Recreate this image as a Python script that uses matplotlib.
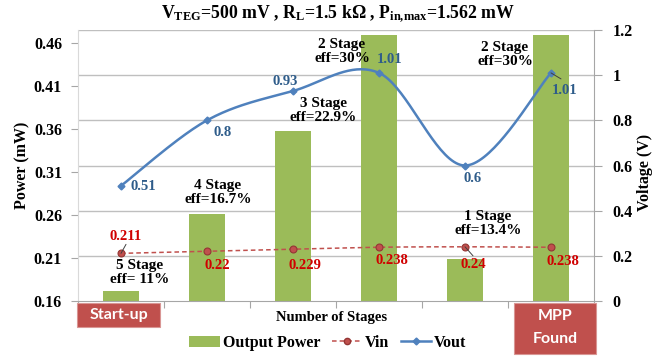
import numpy as np
import matplotlib
matplotlib.use("Agg")
import matplotlib.pyplot as plt
from matplotlib.patches import Rectangle, Patch
from matplotlib.lines import Line2D

# ---- data ----
stages = [5, 4, 3, 2, 1, 2]
efficiency = ["11%", "16.7%", "22.9%", "30%", "13.4%", "30%"]
output_power = [0.172, 0.261, 0.358, 0.469, 0.209, 0.469]   # mW
vin = [0.211, 0.22, 0.229, 0.238, 0.24, 0.238]              # V
vout = [0.51, 0.8, 0.93, 1.01, 0.6, 1.01]                   # V
power_ticks = [0.16, 0.21, 0.26, 0.31, 0.36, 0.41, 0.46]
voltage_ticks = [0, 0.2, 0.4, 0.6, 0.8, 1.0, 1.2]
voltage_ticklabels = ["0", "0.2", "0.4", "0.6", "0.8", "1", "1.2"]

SERIF = "Liberation Serif"
plt.rcParams["font.family"] = SERIF
plt.rcParams["font.weight"] = "bold"
plt.rcParams["mathtext.fontset"] = "custom"
plt.rcParams["mathtext.rm"] = "Liberation Serif:bold"
plt.rcParams["mathtext.it"] = "Liberation Serif:bold"
plt.rcParams["mathtext.bf"] = "Liberation Serif:bold"

BAR = "#9BBB59"
BLUE = "#4F81BD"
BLUE_TXT = "#2E5C8A"
RED = "#C0504D"
RED_TXT = "#D00000"
GRID = "#BFBFBF"
AXIS = "#A6A6A6"

W, H = 665, 356
fig = plt.figure(figsize=(W / 100, H / 100), dpi=100)
x0, x1, y0, y1 = 78, 594, 30, 301
ax = fig.add_axes([x0 / W, 1 - y1 / H, (x1 - x0) / W, (y1 - y0) / H])
ax2 = ax.twinx()

n = len(stages)
x = np.arange(n)
p_lo, p_hi = 0.16, 0.4751
v_lo, v_hi = 0.0, 1.2

ax.set_xlim(-0.5, n - 0.5)
ax.set_ylim(p_lo, p_hi)
ax2.set_ylim(v_lo, v_hi)

# horizontal gridlines follow the voltage axis
for v in voltage_ticks[1:]:
    ax.axhline(p_lo + (v - v_lo) / (v_hi - v_lo) * (p_hi - p_lo),
               color=GRID, lw=1.0, zorder=0.5)

ax.bar(x, output_power, width=0.42, color=BAR, zorder=2)


def smooth(xs, ys, steps=40):
    """Cubic Bezier smoothing through all points (spreadsheet-style)."""
    pts = np.column_stack([xs, ys]).astype(float)
    m = len(pts)
    out = [pts[0]]
    for i in range(m - 1):
        p0 = pts[max(i - 1, 0)]
        p1 = pts[i]
        p2 = pts[i + 1]
        p3 = pts[min(i + 2, m - 1)]
        c1 = p1 + (p2 - p0) / 6.0
        c2 = p2 - (p3 - p1) / 6.0
        t = np.linspace(0, 1, steps)[1:, None]
        seg = ((1 - t) ** 3) * p1 + 3 * ((1 - t) ** 2) * t * c1 \
            + 3 * (1 - t) * t ** 2 * c2 + t ** 3 * p2
        out.extend(seg)
    out = np.array(out)
    return out[:, 0], out[:, 1]


sx, sy = smooth(x, vout)
ax2.plot(sx, sy, color=BLUE, lw=1.8, zorder=3, solid_capstyle="round")
ax2.plot(x, vout, ls="none", marker="D", ms=3.5, color=BLUE, zorder=4)

ix, iy = smooth(x, vin)
ax2.plot(ix, iy, color=RED, lw=1.1, ls=(0, (3, 2)), zorder=3)
ax2.plot(x, vin, ls="none", marker="o", ms=5, mfc=RED, mec="#943634",
         mew=0.8, zorder=4)

# ---- axes styling ----
for a in (ax, ax2):
    for s in a.spines.values():
        s.set_visible(False)
ax.spines["left"].set_visible(True)
ax.spines["left"].set_color("#D9D9D9")
ax.spines["bottom"].set_visible(True)
ax.spines["bottom"].set_color(AXIS)
ax2.spines["right"].set_visible(True)
ax2.spines["right"].set_color(AXIS)

ax.set_xticks(np.arange(-0.5, n, 1.0))
ax.set_xticklabels([])
ax.tick_params(axis="x", length=5, color=AXIS, width=0.8)
ax.set_yticks(power_ticks)
ax.set_yticklabels([f"{t:.2f}" for t in power_ticks])
ax.tick_params(axis="y", length=5, color=AXIS, width=0.8, pad=6.5,
               labelsize=11.5)
ax2.set_yticks(voltage_ticks)
ax2.set_yticklabels(voltage_ticklabels)
ax2.tick_params(axis="y", length=6, color=AXIS, width=0.8, pad=7.5,
                labelsize=11.5)
for lab in ax.get_yticklabels() + ax2.get_yticklabels():
    lab.set_fontweight("bold")

PX = 0.72  # points per pixel


def label(axis, xv, yv, text, dx, dy, color, size, leader=None):
    axis.annotate(text, xy=(xv, yv), xytext=(dx * PX, dy * PX),
                  textcoords="offset points", ha="center", va="center",
                  color=color, fontsize=size, fontweight="bold",
                  linespacing=1.1, zorder=6, annotation_clip=False)
    if leader is not None:
        lx, ly = leader
        axis.annotate("", xy=(xv, yv), xytext=(lx * PX, ly * PX),
                      textcoords="offset points",
                      arrowprops=dict(arrowstyle="-", color="#404040",
                                      lw=0.7, shrinkA=0, shrinkB=0),
                      zorder=6)


# stage / efficiency labels next to bars
bar_offsets = [(19, 18), (11, 22), (30, 20), (-37, -16), (23, 35), (-46, -19)]
for i in range(n):
    dx, dy = bar_offsets[i]
    label(ax2, x[i], v_lo + (output_power[i] - p_lo) / (p_hi - p_lo) * (v_hi - v_lo),
          f"{stages[i]} Stage\neff={'' if i else ' '}{efficiency[i]}", dx, dy, "black", 11)

vout_offsets = [(22, -1), (16, -12), (-8, 9), (11, 13), (8, -12.5), (14, -18)]
vout_leaders = [None, None, None, None, None, (10, -6)]
for i in range(n):
    dx, dy = vout_offsets[i]
    label(ax2, x[i], vout[i], f"{vout[i]:g}", dx, dy, BLUE_TXT, 10.5,
          vout_leaders[i])

vin_offsets = [(5, 17), (10, -14), (12, -16), (13, -13), (8, -18), (12, -14)]
vin_leaders = [(5, 9), None, None, None, (8, -9), None]
for i in range(n):
    dx, dy = vin_offsets[i]
    label(ax2, x[i], vin[i], f"{vin[i]:g}", dx, dy, RED_TXT, 10.5,
          vin_leaders[i])

# ---- titles and axis names ----
fig.text(338 / W, 1 - 14 / H,
         r"V$_{\mathrm{TEG}}$=500 mV , R$_{\mathrm{L}}$=1.5 k$\Omega$ , "
         r"P$_{\mathrm{in{,}max}}$=1.562 mW",
         ha="center", va="center", fontsize=12.8, fontweight="bold")
fig.text(22 / W, 1 - 165 / H, "Power (mW)", rotation=90, ha="center",
         va="center", fontsize=11.5, fontweight="bold")
fig.text(645 / W, 1 - 172 / H, "Voltage (V)", rotation=90, ha="center",
         va="center", fontsize=11.5, fontweight="bold")
fig.text(332 / W, 1 - 318 / H, "Number of Stages", ha="center",
         va="center", fontsize=10.5, fontweight="bold")

# ---- status boxes ----
BOX = "#C0504D"
for (bx0, by0, bx1, by1), lines in [((77, 303, 160, 327), [("Start-up", 315)]),
                                    ((514, 303, 596, 354),
                                     [("MPP", 316), ("Found", 339)])]:
    fig.add_artist(Rectangle((bx0 / W, 1 - by1 / H), (bx1 - bx0) / W,
                             (by1 - by0) / H, transform=fig.transFigure,
                             facecolor=BOX, edgecolor="#D99694", lw=0.8))
    for txt, ty in lines:
        fig.text((bx0 + bx1) / 2 / W, 1 - ty / H, txt, ha="center",
                 va="center", color="white", fontsize=11.5,
                 fontweight="bold", family="Lato")

# ---- legend ----
handles = [Patch(facecolor=BAR, edgecolor="none"),
           Line2D([], [], color=RED, lw=1.1, ls=(0, (3, 2)), marker="o",
                  ms=4.5, mfc=RED, mec="#943634"),
           Line2D([], [], color=BLUE, lw=1.8, marker="D", ms=3.5)]
fig.legend(handles, ["Output Power", "Vin", "Vout"], ncol=3,
           loc="center", bbox_to_anchor=(328 / W, 1 - 343 / H),
           frameon=False, prop={"family": SERIF, "weight": "bold",
                                "size": 11.5},
           handlelength=1.9, handletextpad=0.2, columnspacing=0.7,
           borderpad=0.0)

fig.savefig("out.png", dpi=100)
